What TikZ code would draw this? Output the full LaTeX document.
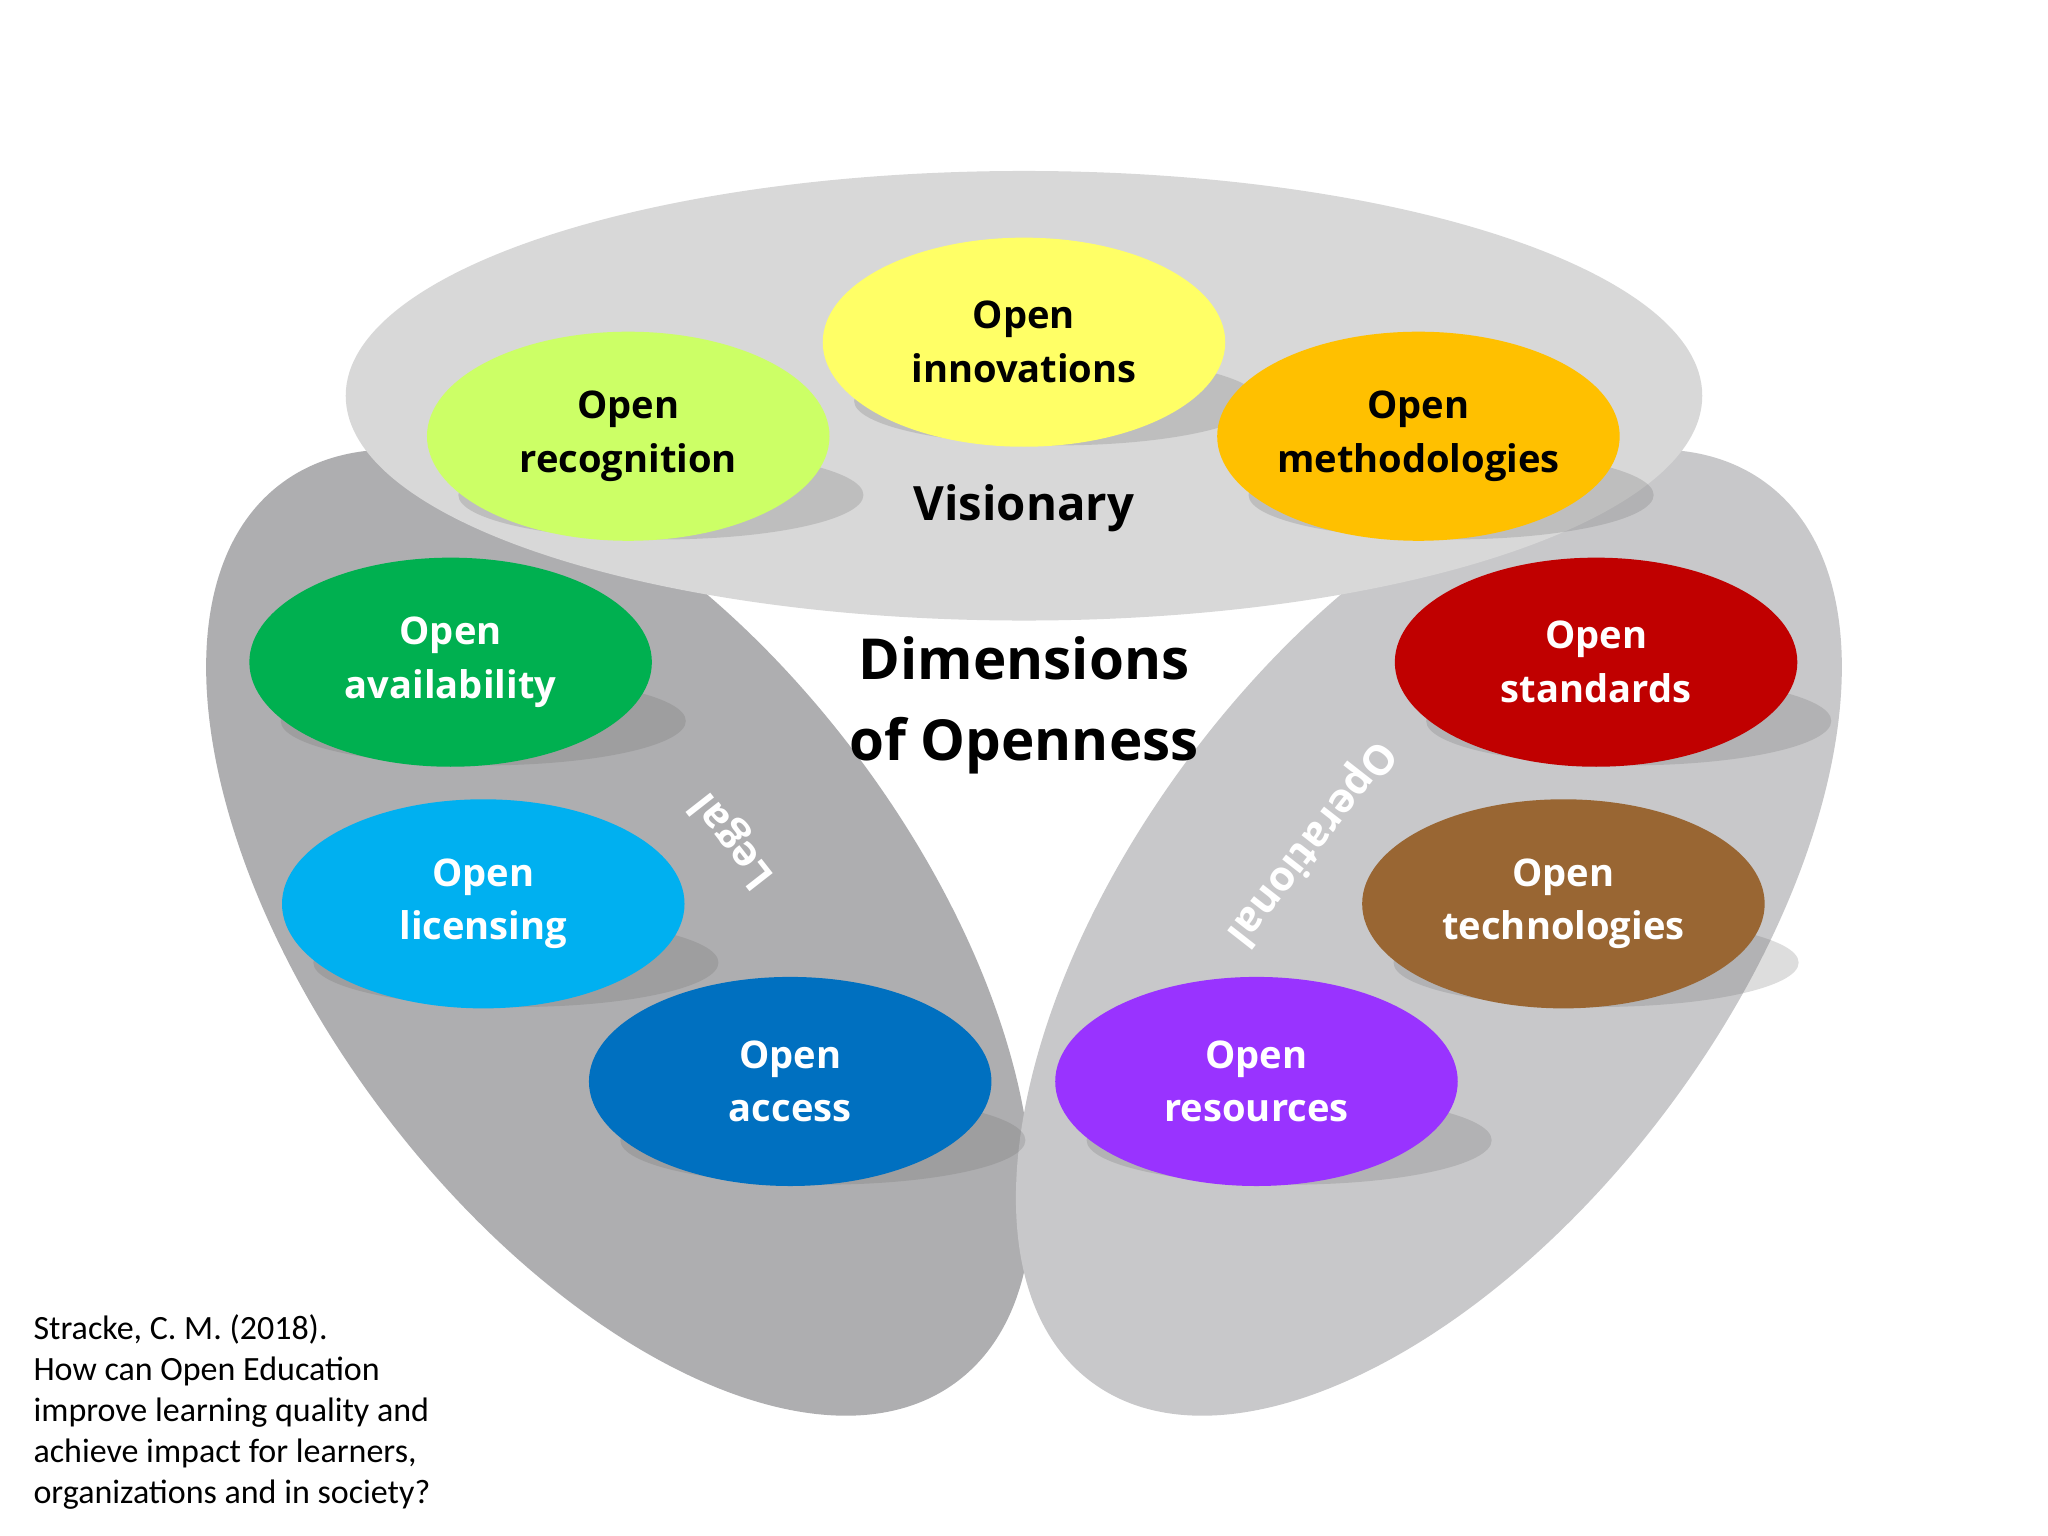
\documentclass[tikz,border=0pt]{standalone}
\usepackage{fontspec}
\setmainfont{Open Sans}
\newfontfamily\citefont{Carlito}
\usetikzlibrary{shapes.geometric}
\definecolor{cInn}{HTML}{FFFF66}
\definecolor{cRec}{HTML}{CCFF66}
\definecolor{cMet}{HTML}{FFC000}
\definecolor{cAva}{HTML}{00B050}
\definecolor{cSta}{HTML}{C00000}
\definecolor{cLic}{HTML}{00B0F0}
\definecolor{cTec}{HTML}{996633}
\definecolor{cAcc}{HTML}{0070C0}
\definecolor{cRes}{HTML}{9933FF}
\tikzset{
  dim/.style={ellipse,minimum width=3.08cm,minimum height=1.6cm,inner sep=0pt,align=center,
     font=\fontsize{8.3}{11.7}\selectfont\bfseries,text=white},
  shad/.style={fill=black!60,opacity=0.22},
}
\newcommand{\dimnode}[5]{%
  \fill[shad] (#2+25,#3+45) ellipse [x radius=1.55cm,y radius=0.34cm];
  \node[dim,fill=#4] (#1) at (#2,#3) {#5};}
\begin{document}
\begin{tikzpicture}[x=0.01cm,y=-0.01cm]
\useasboundingbox (0,0) rectangle (1568,1176);
\fill[white] (0,0) rectangle (1568,1176);
% side lobes
\fill[fill={rgb,255:red,174;green,174;blue,176}] (474,714) ellipse [x radius=4.3cm,y radius=2.27cm,rotate=-53];
\fill[fill={rgb,255:red,200;green,200;blue,202}] (1094,714) ellipse [x radius=4.3cm,y radius=2.27cm,rotate=53];
% top
\fill[fill={rgb,255:red,216;green,216;blue,216}] (784,303) ellipse [x radius=5.19cm,y radius=1.72cm];
\dimnode{inn}{784}{262}{cInn}{\color{black}Open\\\color{black}innovations}
\dimnode{rec}{481}{334}{cRec}{\color{black}Open\\\color{black}recognition}
\dimnode{met}{1086}{334}{cMet}{\color{black}Open\\\color{black}methodologies}
\dimnode{ava}{345}{507}{cAva}{Open\\availability}
\dimnode{sta}{1222}{507}{cSta}{Open\\standards}
\dimnode{lic}{370}{692}{cLic}{Open\\licensing}
\dimnode{tec}{1197}{692}{cTec}{Open\\technologies}
\dimnode{acc}{605}{828}{cAcc}{Open\\access}
\dimnode{res}{962}{828}{cRes}{Open\\resources}
\node[font=\fontsize{10.3}{13}\selectfont\bfseries] (vis) at (784,389) {Visionary};
\node[font=\fontsize{12.3}{17.5}\selectfont\bfseries,align=center] (dim) at (784,540) {Dimensions\\of Openness};
\node[font=\fontsize{9}{11}\selectfont\bfseries,text=white,rotate=128] (leg) at (562,643) {Legal};
\node[font=\fontsize{9}{11}\selectfont\bfseries,text=white,rotate=232] (ope) at (1003,645) {Operational};
\node[font=\citefont\fontsize{7.4}{8.9}\selectfont,align=left,anchor=north west,inner sep=0pt] (cite) at (25,1006)
 {Stracke, C. M. (2018).\\How can Open Education\\improve learning quality and\\achieve impact for learners,\\organizations and in society?};
\end{tikzpicture}
\end{document}
